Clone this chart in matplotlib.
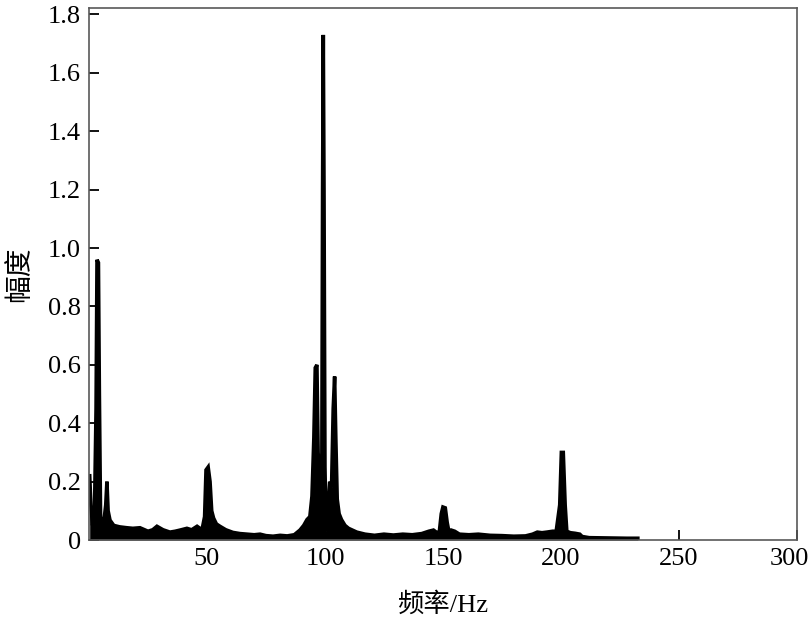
import numpy as np
import matplotlib.pyplot as plt
import matplotlib.transforms as mtransforms

# spectrum envelope
freq = [0.3, 0.8, 1.5, 2.3, 3.0, 3.4, 4.0, 4.4, 4.9, 5.6, 6.4, 7.1, 7.6, 8.1, 8.9,
        10.5, 13, 16, 18.6, 21.6, 25, 27, 28.8, 31.4, 34.3, 36.5, 38.6, 41.5, 43.5,
        45.8, 47.9, 49.0, 49.6, 50.5, 51.3, 52.0, 52.8, 54, 55.5, 58, 61, 64, 67, 70,
        72.5, 75, 78, 81, 84, 87, 89.4, 91, 92.4, 93.6, 94.5, 95.3, 95.9, 96.6, 97.1,
        97.6, 98.1, 98.7, 99.0, 99.3, 99.6, 100.0, 100.5, 101.2, 102.0, 102.8, 103.5,
        104.1, 104.6, 105.2, 106, 107, 108.5, 110, 113.5, 117, 121, 125, 129, 133,
        137, 141, 144, 146, 147.5, 148.5, 149.3, 150.0, 151.0, 151.8, 152.5, 153.5,
        155, 157, 161, 165, 170, 175, 180, 185, 188, 190, 192, 194, 196.5, 198,
        199.5, 200.2, 201.0, 201.8, 202.5, 204, 206, 208, 209, 212, 220, 228, 232.6]
amp = [0.22, 0.12, 0.05, 0.08, 0.45, 0.96, 0.95, 0.5, 0.08, 0.06, 0.07, 0.12, 0.20, 0.10, 0.068,
       0.05, 0.045, 0.042, 0.04, 0.042, 0.03, 0.035, 0.047, 0.035, 0.027, 0.03, 0.034, 0.04, 0.035,
       0.047, 0.035, 0.08, 0.24, 0.25, 0.2, 0.1, 0.075, 0.055, 0.047, 0.035, 0.026, 0.022, 0.02, 0.018,
       0.02, 0.015, 0.013, 0.016, 0.014, 0.018, 0.034, 0.05, 0.07, 0.08, 0.15, 0.35, 0.59, 0.60, 0.30,
       0.22, 0.05, 0.3, 1.2, 1.73, 1.2, 0.25, 0.03, 0.1, 0.2, 0.18, 0.45,
       0.56, 0.35, 0.14, 0.09, 0.07, 0.05, 0.04, 0.027, 0.02, 0.016, 0.02, 0.017, 0.02,
       0.018, 0.022, 0.03, 0.034, 0.025, 0.03, 0.09, 0.113, 0.11, 0.06, 0.03, 0.034,
       0.03, 0.02, 0.018, 0.02, 0.016, 0.015, 0.013, 0.014, 0.02, 0.027, 0.025, 0.027, 0.03, 0.03,
       0.12, 0.30, 0.30, 0.12, 0.03, 0.025, 0.023, 0.02, 0.012, 0.008, 0.007, 0.006, 0.006]

xticks = [50, 100, 150, 200, 250, 300]
yticks = [0, 0.2, 0.4, 0.6, 0.8, 1.0, 1.2, 1.4, 1.6, 1.8]
ytick_labels = ["0", "0.2", "0.4", "0.6", "0.8", "1.0", "1.2", "1.4", "1.6", "1.8"]

serif = ["Liberation Serif", "Noto Sans CJK SC"]

fig = plt.figure(figsize=(8.09, 6.2), dpi=100)
ax = fig.add_axes([0.110, 0.129, 0.875, 0.858])

ax.fill_between(freq, 0, amp, color="k", lw=0)
ax.plot(freq, amp, color="k", lw=2.6, solid_joinstyle="miter")

ax.set_xlim(0, 300)
ax.set_ylim(0, 1.822)
ax.set_xticks(xticks)
xl = ax.set_xticklabels([str(t) for t in xticks], family=serif, fontsize=19)
ax.set_yticks(yticks)
ax.set_yticklabels(ytick_labels, family=serif, fontsize=19)
ax.tick_params(direction="in", length=7, width=1.3, pad=6)

# last x label sits against the right edge, as in the original
xl[-1].set_ha("right")
xl[-1].set_transform(xl[-1].get_transform()
                     + mtransforms.ScaledTranslation(0.12, 0, fig.dpi_scale_trans))

for s in ax.spines.values():
    s.set_color("0.35")
    s.set_linewidth(1.2)

ax.set_xlabel("频率/Hz", family=serif, fontsize=19, labelpad=16)
ax.set_ylabel("幅度", family=["Noto Sans CJK SC"], fontsize=20, labelpad=10)

fig.savefig("out.png", dpi=100)
